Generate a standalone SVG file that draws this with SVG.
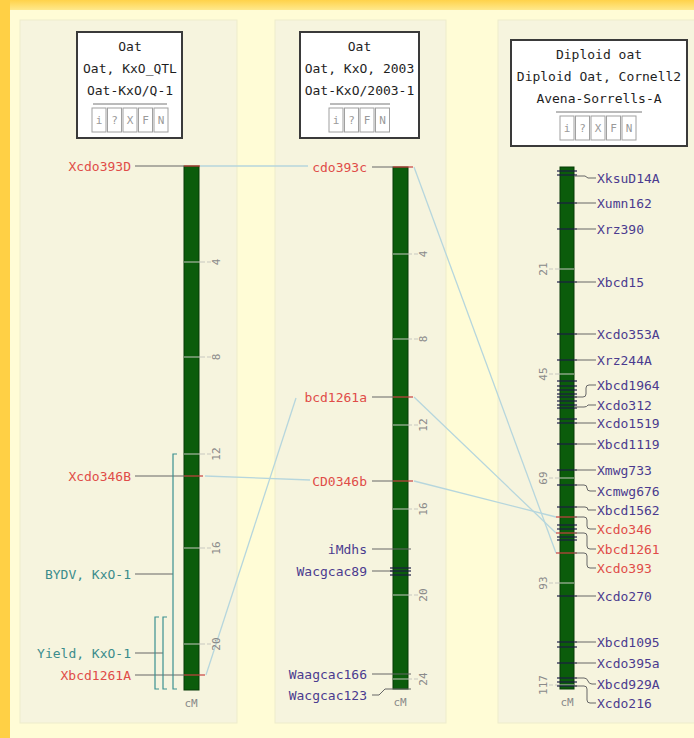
<svg xmlns="http://www.w3.org/2000/svg" width="694" height="738" viewBox="0 0 694 738">
<defs>
<linearGradient id="topg" x1="0" y1="0" x2="0" y2="1">
<stop offset="0" stop-color="#FFD24A"/>
<stop offset="1" stop-color="#FFE98C"/>
</linearGradient>
<style>
text{font-family:"DejaVu Sans Mono","Liberation Mono",monospace;font-size:13px}
.box{fill:#ffffff;stroke:#3a3a3a;stroke-width:2}
.bt{fill:#1e1e1e;text-anchor:middle}
.sep{stroke:#777;stroke-width:1}
.ic{fill:#fff;stroke:#a0a0a0;stroke-width:1}
.it{fill:#9a9a9a;font-size:11px;text-anchor:middle}
.bar{fill:#0b5c0b;stroke:#063a06;stroke-width:1}
.scl{stroke:#c8c8c0;stroke-width:1}
.sct{fill:#8a8a8a;font-size:11px;text-anchor:middle}
.ml{stroke:#666;stroke-width:1;fill:none}
.mk{stroke:#1c1c44;stroke-width:1.2}
.mkr{stroke:#c84040;stroke-width:1.2}
.red{fill:#e04c48}
.pur{fill:#4b3b8f}
.teal{fill:#3b8c8c}
.qtl{stroke:#3b9090;stroke-width:1.2;fill:none}
.con{stroke:#b6d6dd;stroke-width:1.3;fill:none}
.end{text-anchor:end}
.cm{fill:#8a8a8a;font-size:11px;text-anchor:middle}
</style>
</defs>
<g id="background">
<rect x="0" y="0" width="694" height="738" fill="#FFFCD6"/>
<rect x="0" y="0" width="694" height="10" fill="url(#topg)"/>
<rect x="0" y="0" width="10" height="738" fill="#FFD045"/>
<rect x="20" y="20" width="217" height="703" fill="#F6F4DE" stroke="#EEECCB"/>
<rect x="275" y="20" width="171" height="703" fill="#F6F4DE" stroke="#EEECCB"/>
<rect x="498" y="20" width="210" height="703" fill="#F6F4DE" stroke="#EEECCB"/>
</g>
<g id="connectors">
<line class="con" x1="200" y1="166" x2="308" y2="166"/>
<line class="con" x1="414" y1="167" x2="556" y2="553"/>
<line class="con" x1="205" y1="476" x2="310" y2="480"/>
<line class="con" x1="206" y1="675" x2="296" y2="398"/>
<line class="con" x1="414" y1="397" x2="556" y2="533"/>
<line class="con" x1="414" y1="481" x2="556" y2="517"/>
</g>
<g id="title1">
<rect class="box" x="77" y="32" width="105" height="106"/>
<text class="bt" x="130" y="51">Oat</text>
<text class="bt" x="130" y="73">Oat, KxO_QTL</text>
<text class="bt" x="130" y="95">Oat-KxO/Q-1</text>
<line class="sep" x1="93" y1="104" x2="167" y2="104"/>
<rect class="ic" x="92" y="108" width="14" height="24"/><text class="it" x="99" y="124">i</text>
<rect class="ic" x="107.5" y="108" width="14" height="24"/><text class="it" x="114.5" y="124">?</text>
<rect class="ic" x="123" y="108" width="14" height="24"/><text class="it" x="130" y="124">X</text>
<rect class="ic" x="138.5" y="108" width="14" height="24"/><text class="it" x="145.5" y="124">F</text>
<rect class="ic" x="154" y="108" width="14" height="24"/><text class="it" x="161" y="124">N</text>
</g>
<g id="title2">
<rect class="box" x="300" y="32" width="119" height="106"/>
<text class="bt" x="359.5" y="51">Oat</text>
<text class="bt" x="359.5" y="73">Oat, KxO, 2003</text>
<text class="bt" x="359.5" y="95">Oat-KxO/2003-1</text>
<line class="sep" x1="330" y1="104" x2="390" y2="104"/>
<rect class="ic" x="329" y="108" width="14" height="24"/><text class="it" x="336" y="124">i</text>
<rect class="ic" x="344.5" y="108" width="14" height="24"/><text class="it" x="351.5" y="124">?</text>
<rect class="ic" x="360" y="108" width="14" height="24"/><text class="it" x="367" y="124">F</text>
<rect class="ic" x="375.5" y="108" width="14" height="24"/><text class="it" x="382.5" y="124">N</text>
</g>
<g id="title3">
<rect class="box" x="511" y="40" width="176" height="106"/>
<text class="bt" x="599" y="59">Diploid oat</text>
<text class="bt" x="599" y="81">Diploid Oat, Cornell2</text>
<text class="bt" x="599" y="103">Avena-Sorrells-A</text>
<line class="sep" x1="556" y1="112" x2="642" y2="112"/>
<rect class="ic" x="560" y="116" width="14" height="24"/><text class="it" x="567" y="132">i</text>
<rect class="ic" x="575.5" y="116" width="14" height="24"/><text class="it" x="582.5" y="132">?</text>
<rect class="ic" x="591" y="116" width="14" height="24"/><text class="it" x="598" y="132">X</text>
<rect class="ic" x="606.5" y="116" width="14" height="24"/><text class="it" x="613.5" y="132">F</text>
<rect class="ic" x="622" y="116" width="14" height="24"/><text class="it" x="629" y="132">N</text>
</g>
<g id="map1">
<rect class="bar" x="184" y="166" width="15" height="524"/>
<g class="scl">
<line x1="184" y1="262" x2="205" y2="262"/><line x1="207" y1="262" x2="211" y2="262"/>
<line x1="184" y1="357" x2="205" y2="357"/><line x1="207" y1="357" x2="211" y2="357"/>
<line x1="184" y1="454" x2="205" y2="454"/><line x1="207" y1="454" x2="211" y2="454"/>
<line x1="184" y1="548" x2="205" y2="548"/><line x1="207" y1="548" x2="211" y2="548"/>
<line x1="184" y1="644" x2="205" y2="644"/><line x1="207" y1="644" x2="211" y2="644"/>
</g>
<text class="sct" transform="translate(220,262) rotate(-90)">4</text>
<text class="sct" transform="translate(220,357) rotate(-90)">8</text>
<text class="sct" transform="translate(220,454) rotate(-90)">12</text>
<text class="sct" transform="translate(220,548) rotate(-90)">16</text>
<text class="sct" transform="translate(220,644) rotate(-90)">20</text>
<text class="cm" x="191" y="707">cM</text>
<line class="ml" x1="135" y1="166" x2="184" y2="166"/><line class="mkr" x1="184" y1="166" x2="200" y2="166"/>
<line class="ml" x1="135" y1="476" x2="184" y2="476"/><line class="mkr" x1="184" y1="476" x2="203" y2="476"/>
<line class="ml" x1="135" y1="675" x2="184" y2="675"/><line class="mkr" x1="184" y1="675" x2="205" y2="675"/>
<line class="ml" x1="135" y1="574" x2="173" y2="574"/>
<line class="ml" x1="135" y1="653" x2="163" y2="653"/>
<path class="qtl" d="M177,454 H173 V689 H177"/>
<path class="qtl" d="M167,617 H163 V689 H167"/>
<path class="qtl" d="M159,617 H155 V689 H159"/>
<text class="red end" x="131" y="170.5">Xcdo393D</text>
<text class="red end" x="131" y="480.5">Xcdo346B</text>
<text class="teal end" x="131" y="578.5">BYDV, KxO-1</text>
<text class="teal end" x="131" y="657.5">Yield, KxO-1</text>
<text class="red end" x="131" y="679.5">Xbcd1261A</text>
</g>
<g id="map2">
<rect class="bar" x="393" y="167" width="15" height="522"/>
<g class="scl">
<line x1="393" y1="254" x2="412" y2="254"/><line x1="414" y1="254" x2="418" y2="254"/>
<line x1="393" y1="339" x2="412" y2="339"/><line x1="414" y1="339" x2="418" y2="339"/>
<line x1="393" y1="425" x2="412" y2="425"/><line x1="414" y1="425" x2="418" y2="425"/>
<line x1="393" y1="509" x2="412" y2="509"/><line x1="414" y1="509" x2="418" y2="509"/>
<line x1="393" y1="595" x2="412" y2="595"/><line x1="414" y1="595" x2="418" y2="595"/>
<line x1="393" y1="679" x2="412" y2="679"/><line x1="414" y1="679" x2="418" y2="679"/>
</g>
<text class="sct" transform="translate(427,254) rotate(-90)">4</text>
<text class="sct" transform="translate(427,339) rotate(-90)">8</text>
<text class="sct" transform="translate(427,425) rotate(-90)">12</text>
<text class="sct" transform="translate(427,509) rotate(-90)">16</text>
<text class="sct" transform="translate(427,595) rotate(-90)">20</text>
<text class="sct" transform="translate(427,679) rotate(-90)">24</text>
<text class="cm" x="400" y="706">cM</text>
<line class="ml" x1="372" y1="167" x2="393" y2="167"/><line class="mkr" x1="393" y1="167" x2="413" y2="167"/>
<line class="ml" x1="372" y1="397" x2="393" y2="397"/><line class="mkr" x1="393" y1="397" x2="413" y2="397"/>
<line class="ml" x1="372" y1="481" x2="393" y2="481"/><line class="mkr" x1="393" y1="481" x2="413" y2="481"/>
<line class="ml" x1="372" y1="549" x2="411" y2="549"/>
<line class="ml" x1="372" y1="571" x2="393" y2="571"/>
<line class="mk" x1="390" y1="568" x2="411" y2="568"/>
<line class="mk" x1="390" y1="571" x2="411" y2="571"/>
<line class="mk" x1="390" y1="575" x2="411" y2="575"/>
<line class="ml" x1="372" y1="674" x2="411" y2="674"/>
<path class="ml" d="M372,695 H379 L385,689 H411"/>
<text class="red end" x="367" y="171.5">cdo393c</text>
<text class="red end" x="367" y="401.5">bcd1261a</text>
<text class="red end" x="367" y="485.5">CD0346b</text>
<text class="pur end" x="367" y="553.5">iMdhs</text>
<text class="pur end" x="367" y="575.5">Wacgcac89</text>
<text class="pur end" x="367" y="678.5">Waagcac166</text>
<text class="pur end" x="367" y="699.5">Wacgcac123</text>
</g>
<g id="map3">
<rect class="bar" x="560" y="167" width="14" height="522"/>
<g class="scl">
<line x1="549" y1="269" x2="553" y2="269"/><line x1="555" y1="269" x2="574" y2="269"/>
<line x1="549" y1="374" x2="553" y2="374"/><line x1="555" y1="374" x2="574" y2="374"/>
<line x1="549" y1="478" x2="553" y2="478"/><line x1="555" y1="478" x2="574" y2="478"/>
<line x1="549" y1="583" x2="553" y2="583"/><line x1="555" y1="583" x2="574" y2="583"/>
<line x1="549" y1="685" x2="553" y2="685"/><line x1="555" y1="685" x2="574" y2="685"/>
</g>
<text class="sct" transform="translate(547,269) rotate(-90)">21</text>
<text class="sct" transform="translate(547,374) rotate(-90)">45</text>
<text class="sct" transform="translate(547,478) rotate(-90)">69</text>
<text class="sct" transform="translate(547,583) rotate(-90)">93</text>
<text class="sct" transform="translate(547,685) rotate(-90)">117</text>
<text class="cm" x="567" y="706">cM</text>
<g class="mk">
<line x1="557" y1="171" x2="577" y2="171"/><line x1="557" y1="175" x2="577" y2="175"/>
<line x1="557" y1="203" x2="577" y2="203"/><line x1="557" y1="229" x2="577" y2="229"/>
<line x1="557" y1="282" x2="577" y2="282"/><line x1="557" y1="334" x2="577" y2="334"/>
<line x1="557" y1="360" x2="577" y2="360"/><line x1="557" y1="381" x2="577" y2="381"/>
<line x1="557" y1="386" x2="577" y2="386"/><line x1="557" y1="390" x2="577" y2="390"/>
<line x1="557" y1="394" x2="577" y2="394"/><line x1="557" y1="397" x2="577" y2="397"/>
<line x1="557" y1="401" x2="577" y2="401"/><line x1="557" y1="405" x2="577" y2="405"/>
<line x1="557" y1="408" x2="577" y2="408"/><line x1="557" y1="419" x2="577" y2="419"/>
<line x1="557" y1="423" x2="577" y2="423"/><line x1="557" y1="444" x2="577" y2="444"/>
<line x1="557" y1="470" x2="577" y2="470"/><line x1="557" y1="485" x2="577" y2="485"/>
<line x1="557" y1="507" x2="577" y2="507"/><line x1="557" y1="525" x2="577" y2="525"/>
<line x1="557" y1="529" x2="577" y2="529"/><line x1="557" y1="537" x2="577" y2="537"/>
<line x1="557" y1="540" x2="577" y2="540"/><line x1="557" y1="596" x2="577" y2="596"/>
<line x1="557" y1="642" x2="577" y2="642"/><line x1="557" y1="647" x2="577" y2="647"/>
<line x1="557" y1="663" x2="577" y2="663"/><line x1="557" y1="678" x2="577" y2="678"/>
<line x1="557" y1="682" x2="577" y2="682"/><line x1="557" y1="686" x2="577" y2="686"/>
</g>
<g class="mkr">
<line x1="556" y1="517" x2="577" y2="517"/>
<line x1="556" y1="533" x2="577" y2="533"/>
<line x1="556" y1="553" x2="577" y2="553"/>
</g>
<g class="ml">
<path d="M574,176 H585 L588,178 H596"/>
<line x1="574" y1="203" x2="596" y2="203"/>
<line x1="574" y1="229" x2="596" y2="229"/>
<line x1="574" y1="282" x2="596" y2="282"/>
<line x1="574" y1="334" x2="596" y2="334"/>
<line x1="574" y1="360" x2="596" y2="360"/>
<path d="M574,397 H583 Q586,397 586,394 V388 Q586,385 589,385 H596"/>
<path d="M574,407 H584 Q587,407 588,405 H596"/>
<line x1="574" y1="423" x2="596" y2="423"/>
<line x1="574" y1="444" x2="596" y2="444"/>
<line x1="574" y1="470" x2="596" y2="470"/>
<path d="M574,485 H584 Q587,485 587,488 Q587,491 590,491 H596"/>
<path d="M574,507 H585 Q588,507 588,510 H596"/>
<path d="M574,517 H584 Q587,517 587,520 V526 Q587,529 590,529 H596"/>
<path d="M574,533 H584 Q587,533 587,536 V546 Q587,549 590,549 H596"/>
<path d="M574,553 H584 Q587,553 587,556 V565 Q587,568 590,568 H596"/>
<line x1="574" y1="596" x2="596" y2="596"/>
<line x1="574" y1="642" x2="596" y2="642"/>
<line x1="574" y1="663" x2="596" y2="663"/>
<path d="M574,678 H584 Q587,678 588,681 Q589,684 592,684 H596"/>
<path d="M574,686 H584 Q587,686 587,689 V700 Q587,703 590,703 H596"/>
</g>
<text class="pur" x="597" y="182.5">XksuD14A</text>
<text class="pur" x="597" y="207.5">Xumn162</text>
<text class="pur" x="597" y="233.5">Xrz390</text>
<text class="pur" x="597" y="286.5">Xbcd15</text>
<text class="pur" x="597" y="338.5">Xcdo353A</text>
<text class="pur" x="597" y="364.5">Xrz244A</text>
<text class="pur" x="597" y="389.5">Xbcd1964</text>
<text class="pur" x="597" y="409.5">Xcdo312</text>
<text class="pur" x="597" y="427.5">Xcdo1519</text>
<text class="pur" x="597" y="448.5">Xbcd1119</text>
<text class="pur" x="597" y="474.5">Xmwg733</text>
<text class="pur" x="597" y="495.5">Xcmwg676</text>
<text class="pur" x="597" y="514.5">Xbcd1562</text>
<text class="red" x="597" y="533.5">Xcdo346</text>
<text class="red" x="597" y="553.5">Xbcd1261</text>
<text class="red" x="597" y="572.5">Xcdo393</text>
<text class="pur" x="597" y="600.5">Xcdo270</text>
<text class="pur" x="597" y="646.5">Xbcd1095</text>
<text class="pur" x="597" y="667.5">Xcdo395a</text>
<text class="pur" x="597" y="688.5">Xbcd929A</text>
<text class="pur" x="597" y="707.5">Xcdo216</text>
</g>
</svg>
